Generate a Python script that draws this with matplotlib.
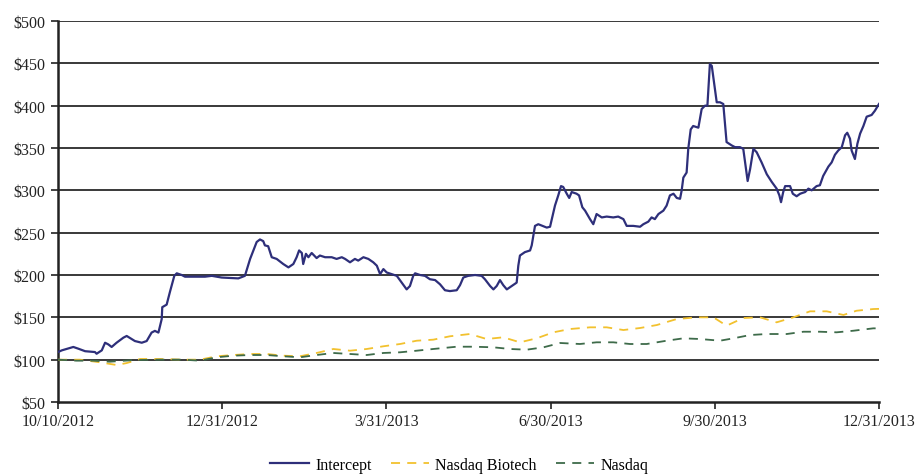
import matplotlib
matplotlib.use("Agg")
import matplotlib.pyplot as plt

# ---- data (x = position index along the category axis, 0..300; ticks every 60) ----
tick_labels = ["10/10/2012", "12/31/2012", "3/31/2013", "6/30/2013", "9/30/2013", "12/31/2013"]
tick_pos = [0, 60, 120, 180, 240, 300]

intercept_x = [0, 1.4, 5.6, 7.4, 9.9, 13.5, 14.1, 16.0, 17.2, 18.4, 19.6, 21.4, 23.9, 25.1, 28.1, 30.6,
               32.4, 34.2, 35.4, 36.7, 37.9, 38.1, 39.7, 40.9, 42.5, 43.4, 45.2, 46.4, 50.1, 53.7,
               56.2, 59.8, 65.9, 68.3, 70.2, 72.6, 73.8, 75.0, 75.6, 76.8, 78.1, 79.9, 82.3, 84.2,
               86.0, 87.2, 88.1, 89.1, 89.6, 90.6, 91.5, 92.7, 94.5, 95.7, 97.6, 100.0, 101.8, 103.7,
               104.9, 106.7, 108.5, 109.7, 111.6, 113.4, 115.2, 116.5, 117.7, 118.9, 120.1, 121.9,
               123.8, 125.6, 127.4, 128.6, 129.8, 130.5, 132.3, 134.1, 135.9, 137.8, 139.6, 141.4,
               143.2, 145.7, 146.9, 148.1, 149.9, 152.4, 154.8,
               156.0, 157.9, 159.1, 160.3, 161.5, 162.7, 164.0, 165.8, 167.6, 168.2, 168.8, 170.6,
               172.5, 173.1, 174.3, 175.5, 178.6, 179.8, 181.6, 182.8, 183.8, 184.6, 185.9, 186.8,
               187.7, 189.5, 190.4, 191.6, 192.6, 194.4, 195.6, 196.8, 198.7, 200.5, 202.9, 204.7,
               206.6, 207.8, 210.2, 212.7, 213.9, 215.7, 216.9, 218.1, 219.4, 221.2, 222.4, 223.6,
               224.9, 226.1, 227.3, 227.9, 228.5, 229.7, 230.3, 231.2, 232.1, 234.0, 235.2, 236.4,
               237.3, 238.2, 238.9, 240.7, 241.9, 243.1, 244.3, 246.2, 247.4, 249.2, 250.4, 252.0,
               252.9, 254.1,
               255.3, 257.1, 259.0, 260.8, 262.6, 263.6, 264.2, 265.0, 265.7, 267.5, 268.5, 269.9,
               271.2, 273.0, 274.2, 275.4, 277.2, 278.4, 279.6, 281.5, 282.7, 283.9, 285.1, 286.4,
               287.6, 288.4, 289.4, 290.0, 291.2, 292.1, 293.1, 294.3, 295.5, 297.3, 298.5, 300.0]
intercept_y = [109, 111, 115, 113, 110, 109, 107, 111, 120, 118, 115, 120, 126, 128, 122, 120,
               122, 132, 134, 132, 148, 162, 165, 180, 199, 202, 200, 198, 198, 198,
               199, 197, 196, 199, 219, 239, 242, 240, 235, 234, 221, 219, 213, 209,
               213, 221, 229, 226, 213, 225, 221, 226, 220, 223, 221, 221, 219, 221,
               219, 215, 219, 217, 221, 219, 215, 211, 201, 207, 203, 201,
               199, 191, 183, 187, 199, 202, 200, 199, 195, 194, 189, 182,
               181, 182, 188, 197, 199, 200, 199,
               195, 187, 183, 187, 194, 188, 183, 187, 191, 211, 223, 227,
               229, 235, 258, 260, 256, 257, 282, 294, 305, 304, 296, 291,
               298, 296, 294, 280, 276, 266, 260, 272, 268, 269, 268, 269,
               266, 258, 258, 257, 260, 263, 268, 266, 272, 276, 282, 294,
               296, 291, 290, 300, 315, 321, 349, 372, 376, 374, 396, 400,
               400, 449, 447, 404, 404, 402, 357, 353, 351, 351, 349, 311,
               325, 349,
               345, 333, 319, 310, 302, 294, 286, 298, 305, 305, 296, 293,
               296, 298, 302, 300, 305, 306, 317, 328, 333, 342, 347, 351,
               365, 368, 361, 347, 337, 355, 367, 376, 387, 389, 394, 402]

biotech_x = [0, 8.0, 15.3, 21.4, 25.1, 30.0, 37.3, 45.8, 51.9, 58.0, 64.1, 70.2, 76.3, 82.3, 88.4,
             94.5, 100.6, 106.7, 112.8, 118.9, 125.0, 131.1, 137.1, 143.2, 150.5, 156.6, 162.7,
             168.8, 174.9, 181.0, 187.1, 194.4, 200.5, 206.6, 212.7, 218.8, 226.1, 233.4, 239.5,
             244.3, 250.4, 256.5, 262.6, 268.7, 274.8, 280.9, 287.0, 291.8, 297.9, 300.0]
biotech_y = [100, 100, 96.9, 93.7, 96, 100.8, 100.8, 100, 100, 104, 105.5, 106.7, 106.7, 104.7, 104,
             107.9, 112.6, 110.6, 112.6, 115.8, 118.5, 122.4, 123.6, 127.6, 130.3, 124.4, 126.4,
             120.5, 125.2, 132.3, 136.2, 138.2, 138.2, 135, 137.4, 140.9, 148, 150, 150,
             140.1, 149.2, 150, 144.1, 150, 157.1, 157.1, 152.8, 157.8, 159.8, 160]

nasdaq_x = [0, 6.8, 12.9, 19.0, 27.5, 37.3, 45.8, 51.9, 58.0, 64.1, 70.2, 76.3, 82.3, 88.4, 94.5,
            100.6, 106.7, 112.8, 118.9, 125.0, 131.1, 137.1, 145.7, 151.8, 159.1, 165.2, 171.3,
            177.4, 183.5, 190.7, 196.8, 202.9, 209.0, 215.1, 222.4, 228.5, 234.6, 241.9, 246.8,
            252.9, 259.0, 266.3, 272.4, 278.4, 284.5, 290.7, 297.9, 300.0]
nasdaq_y = [100, 98.8, 98.8, 97.6, 99.5, 100, 100, 98.8, 102.8, 104.7, 105.5, 105.5, 104, 102.8, 105.5,
            107.9, 106.7, 105.5, 107.9, 108.7, 110.6, 112.6, 115.3, 115.3, 114.6, 112.6, 111.8,
            114.6, 119.7, 118.5, 120.5, 120.5, 118.5, 118.5, 122.4, 125.2, 124.4, 122.4, 125.2,
            129.1, 130.3, 130.3, 133, 133, 132.3, 134.2, 137, 137]

y_ticks = [50, 100, 150, 200, 250, 300, 350, 400, 450, 500]

# ---- style ----
plt.rcParams['font.family'] = ['Liberation Serif', 'DejaVu Serif']
fig = plt.figure(figsize=(9.19, 4.77), dpi=100)
ax = fig.add_axes([58/919, 1-403/477, (879-58)/919, (403-22)/477])

for yv in y_ticks[1:]:
    ax.axhline(yv, color='#2a2a2a', lw=1.3, zorder=1)

ax.plot(intercept_x, intercept_y, color='#2E2F7A', lw=1.6, label='Intercept', zorder=4)
ax.plot(biotech_x, biotech_y, color='#F2C12E', lw=1.3, ls=(0, (5, 4)), label='Nasdaq Biotech', zorder=3)
ax.plot(nasdaq_x, nasdaq_y, color='#3E6B4A', lw=1.3, ls=(0, (5, 4)), label='Nasdaq', zorder=3)

ax.set_xlim(0, 300)
ax.set_ylim(50, 500)
ax.set_yticks(y_ticks)
ax.set_yticklabels(['$%d' % v for v in y_ticks])
ax.set_xticks(tick_pos)
ax.set_xticklabels(tick_labels)

for s in ['top', 'right']:
    ax.spines[s].set_visible(False)
for s in ['left', 'bottom']:
    ax.spines[s].set_linewidth(1.8)
    ax.spines[s].set_color('#222222')

ax.tick_params(axis='both', labelsize=11.5, colors='#222222', length=5, width=1.2)
ax.tick_params(axis='y', pad=4)
ax.tick_params(axis='x', pad=3)

leg = fig.legend(loc='center', bbox_to_anchor=(0.5, 1-466/477), ncol=3, frameon=False,
                 fontsize=11.5, handlelength=2.4, columnspacing=1.2, handletextpad=0.4)

fig.savefig('out.png', dpi=100)
